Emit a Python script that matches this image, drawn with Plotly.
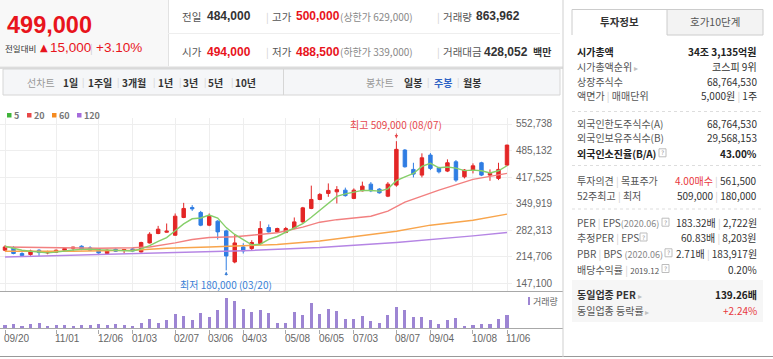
import plotly.graph_objects as go
import pandas as pd

W, H = 773, 359
KR = "Noto Sans CJK KR, Noto Sans, sans-serif"
NUM = "Liberation Sans, Arial, sans-serif"

# ---------------- data ----------------
weeks = [d.strftime("%Y-%m-%d") for d in pd.date_range("2019-09-20", periods=60, freq="7D")]
weeks = ["2020-10-08" if w == "2020-10-09" else w for w in weeks]

price_open = [231300, 238200, 222900, 220300, 231300, 224400, 226200, 231300, 236400, 241500,
              237200, 233800, 222900, 233800, 230500, 234600, 226900, 249900, 273900, 277200,
              269500, 314700, 340200, 327500, 295100, 305300, 280500, 201400, 239700, 235600,
              248400, 289200, 278000, 276400, 286600, 303500, 337700, 360600, 375900, 380000,
              384300, 363200, 382600, 399600, 386900, 369000, 397100, 486400, 437100, 422600,
              473600, 441200, 432800, 456500, 418300, 435400, 454000, 422600, 414200, 448100]
price_high = [244000, 241500, 226200, 232600, 233800, 230000, 233100, 237700, 240200, 244000,
              241500, 236400, 233800, 235600, 234600, 237200, 253000, 277200, 293300, 299400,
              324900, 351900, 346100, 331500, 324900, 307800, 283600, 272100, 249100, 256800,
              305300, 296800, 288700, 290700, 314700, 341700, 395800, 376700, 401400, 394500,
              390700, 388700, 406000, 404800, 389400, 404800, 509000, 488900, 454000, 478000,
              478700, 443800, 462700, 460900, 437900, 452500, 456500, 437100, 454000, 500000]
price_low = [228700, 221100, 214700, 217300, 216700, 221100, 224400, 230000, 228700, 231300,
             229500, 222400, 221100, 226900, 222900, 228000, 225400, 248400, 272100, 276000,
             268300, 313000, 331500, 292500, 292500, 258600, 180000, 198100, 222900, 231300,
             246600, 276400, 276400, 274600, 284900, 301400, 335900, 358800, 367300, 350400,
             367800, 361400, 381000, 379200, 375400, 366500, 393000, 441700, 416700, 416700,
             435400, 426900, 430300, 405500, 414200, 426900, 420100, 408100, 409900, 445600]
price_close = [239700, 222900, 217800, 229500, 225400, 228000, 231300, 235600, 238900, 233800,
               231300, 224400, 231300, 228700, 233100, 229500, 250900, 272100, 284900, 279800,
               318000, 337700, 336600, 295100, 318000, 278000, 216700, 249900, 229500, 250900,
               286600, 278000, 286600, 286600, 303500, 339200, 360600, 373400, 383600, 385600,
               370300, 384300, 394500, 382600, 377500, 399600, 488200, 443800, 425200, 466700,
               439700, 431000, 454000, 409900, 435400, 446300, 422600, 426900, 437100, 499000]
volume = [1000000, 1500000, 800000, 1300000, 1700000, 700000, 1000000, 1000000, 800000, 1100000,
          1100000, 1500000, 1100000, 1300000, 1100000, 700000, 1700000, 2700000, 1700000, 2500000,
          4100000, 3500000, 2500000, 4500000, 3300000, 5200000, 8500000, 7800000, 5500000, 4700000,
          5200000, 4500000, 1700000, 1700000, 4700000, 3800000, 7300000, 4200000, 5500000, 4900000,
          2800000, 2800000, 3500000, 2300000, 1700000, 3900000, 6000000, 5200000, 3300000, 3300000,
          2500000, 1500000, 2500000, 3000000, 700000, 1000000, 1500000, 1300000, 2700000, 3900000]

ma5 = [241500, 236400, 231300, 228700, 227100, 224700, 226400, 230000, 231800, 233500,
       234200, 232800, 231900, 229900, 229800, 229400, 234700, 242900, 254100, 263400,
       281100, 298500, 311400, 313400, 321100, 313100, 288900, 271500, 258400, 245000,
       246700, 259000, 266300, 277700, 288300, 298800, 315300, 332700, 352100, 368500,
       374700, 379400, 383700, 383500, 381800, 387700, 408500, 418300, 426900, 444700,
       452700, 441300, 443300, 440300, 434000, 435300, 433600, 428200, 433700, 446400]

ma20_idx = [0, 5, 11, 15, 17, 20, 22, 24, 27, 29, 32, 35, 37, 39, 43, 45, 47, 51, 55, 59]
ma20_val = [239700, 237700, 236400, 237700, 239700, 249900, 258600, 263700, 265700, 269500,
            275900, 290000, 302700, 309100, 318000, 330800, 353700, 384300, 411600, 426900]
ma60_idx = [0, 8, 15, 19, 24, 32, 37, 41, 46, 50, 55, 59]
ma60_val = [228700, 228700, 231300, 236400, 239700, 245800, 255000, 265200, 279800, 295100,
            307800, 323100]
ma120_idx = [0, 15, 28, 37, 46, 55, 59]
ma120_val = [214200, 222400, 230000, 238200, 250900, 267800, 276400]

tick_weeks = ["2019-09-20", "2019-11-01", "2019-12-06", "2020-01-03", "2020-02-07", "2020-03-06",
              "2020-04-03", "2020-05-08", "2020-06-05", "2020-07-03", "2020-08-07", "2020-09-04",
              "2020-10-08", "2020-11-06"]
tick_labels = ["09/20", "11/01", "12/06", "01/03", "02/07", "03/06", "04/03", "05/08", "06/05",
               "07/03", "08/07", "09/04", "10/08", "11/06"]
price_ticks = [552738, 485132, 417525, 349919, 282313, 214706, 147100]

# ---------------- colours ----------------
RED = "#e32626"
BLUE = "#2f7de3"
VOLC = "#9d85d3"
MA_COL = {"5": "#86cf6a", "20": "#f28080", "60": "#f8a54c", "120": "#b585e4"}
LEG_COL = {"5": "#3fb43a", "20": "#e84848", "60": "#f58a1f", "120": "#a56bdb"}

# ---------------- geometry helpers ----------------
def X(px):
    return px / W

def Y(py):
    return 1 - py / H

STEP = (507 - 5) / 59.0
x_range = [-5 / STEP, 59 + 5 / STEP]
per_px = (price_ticks[0] - price_ticks[-1]) / (283.3 - 124.0)
y_range = [price_ticks[-1] - (291.5 - 283.3) * per_px, price_ticks[0] + (124.0 - 118.0) * per_px]

fig = go.Figure()

def ma_trace(xs, ys, col):
    fig.add_trace(go.Scatter(x=xs, y=ys, mode="lines", line=dict(color=col, width=1.4),
                             xaxis="x", yaxis="y", hoverinfo="skip", showlegend=False))

ma_trace([weeks[i] for i in ma120_idx], ma120_val, MA_COL["120"])
ma_trace([weeks[i] for i in ma60_idx], ma60_val, MA_COL["60"])
ma_trace([weeks[i] for i in ma20_idx], ma20_val, MA_COL["20"])
ma_trace(weeks, ma5, MA_COL["5"])

fig.add_trace(go.Candlestick(
    x=weeks, open=price_open, high=price_high, low=price_low, close=price_close,
    increasing=dict(line=dict(color=RED, width=1), fillcolor=RED),
    decreasing=dict(line=dict(color=BLUE, width=1), fillcolor=BLUE),
    whiskerwidth=0, xaxis="x", yaxis="y", showlegend=False))

fig.add_trace(go.Bar(x=weeks, y=volume, marker=dict(color=VOLC, line=dict(width=0)), width=0.36,
                     xaxis="x2", yaxis="y2", showlegend=False))

shapes = []
ann = []

def rect(x0, y0, x1, y1, fill=None, line=None, lw=1, dash=None, layer="below"):
    d = dict(type="rect", xref="paper", yref="paper", x0=X(x0), x1=X(x1), y0=Y(y1), y1=Y(y0),
             line=dict(width=lw if line else 0, color=line or "rgba(0,0,0,0)"), layer=layer)
    if fill:
        d["fillcolor"] = fill
    if dash:
        d["line"]["dash"] = dash
    shapes.append(d)

def hline(x0, x1, y, col, lw=1, dash=None, layer="above"):
    d = dict(type="line", xref="paper", yref="paper", x0=X(x0), x1=X(x1), y0=Y(y), y1=Y(y),
             line=dict(color=col, width=lw), layer=layer)
    if dash:
        d["line"]["dash"] = dash
    shapes.append(d)

def vline(x, y0, y1, col, lw=1):
    shapes.append(dict(type="line", xref="paper", yref="paper", x0=X(x), x1=X(x), y0=Y(y0), y1=Y(y1),
                       line=dict(color=col, width=lw)))

def txt(x, y, s, size=10.5, color="#333", anchor="left", family=KR):
    ann.append(dict(x=X(x), y=Y(y), xref="paper", yref="paper", text=s, showarrow=False,
                    xanchor=anchor, yanchor="middle", borderpad=0,
                    font=dict(size=size, color=color, family=family)))

SEP = "<span style='color:#d0d0d0'>|</span>"

# ---------------- header ----------------
rect(0, 0, 168, 66, fill="#f8f8f8")
vline(168.5, 0, 66, "#e2e2e2")
hline(168, 560, 33.5, "#eeeeee")
rect(0, 66.5, 563, 69, fill="#dcdcdc")

txt(6, 25, "<b>499,000</b>", size=23.5, color="#e8141c", family=NUM)
txt(4, 48, "전일대비", size=8.5, color="#333")
txt(39, 48, "▲", size=10, color="#e8141c", family="DejaVu Sans")
txt(49, 48, "15,000", size=13.5, color="#e8141c", family=NUM)
txt(89, 48, "|", size=10, color="#cccccc")
txt(95, 48, "+3.10%", size=13.5, color="#e8141c", family=NUM)

row1, row2 = 16.5, 51.5
txt(181, row1, "전일", color="#555")
txt(206, row1, "<b>484,000</b>", size=12, color="#333", family=NUM)
txt(265, row1, "|", size=10, color="#d0d0d0")
txt(271, row1, "고가", color="#555")
txt(295, row1, "<b>500,000</b>", size=12, color="#e8141c", family=NUM)
txt(339, row1, "(상한가 629,000)", size=10, color="#888")
txt(436, row1, "|", size=10, color="#d0d0d0")
txt(442, row1, "거래량", color="#555")
txt(475, row1, "<b>863,962</b>", size=12, color="#333", family=NUM)

txt(181, row2, "시가", color="#555")
txt(206, row2, "<b>494,000</b>", size=12, color="#e8141c", family=NUM)
txt(265, row2, "|", size=10, color="#d0d0d0")
txt(271, row2, "저가", color="#555")
txt(295, row2, "<b>488,500</b>", size=12, color="#e8141c", family=NUM)
txt(339, row2, "(하한가 339,000)", size=10, color="#888")
txt(436, row2, "|", size=10, color="#d0d0d0")
txt(442, row2, "거래대금", color="#555")
txt(483, row2, "<b>428,052</b>", size=12, color="#333", family=NUM)
txt(532, row2, "<b>백만</b>", size=10, color="#333")

# ---------------- chart tab bar ----------------
rect(3, 69, 560, 95, fill="#f5f6f8", line="#d6d6d6")
vline(283.5, 69, 95, "#d6d6d6")
ty = 82
txt(26, ty, "선차트", size=10, color="#999")
items = [(62, "1일"), (87, "1주일"), (121, "3개월"), (157, "1년"), (182, "3년"), (207, "5년"), (234, "10년")]
seps = [81, 116, 152, 177.5, 202.5, 229.5]
for xx, s in items:
    txt(xx, ty, "<b>" + s + "</b>", size=10, color="#333")
for xx in seps:
    txt(xx, ty, "|", size=9, color="#d0d0d0")
txt(365, ty, "봉차트", size=10, color="#999")
txt(403, ty, "<b>일봉</b>", size=10, color="#333")
txt(426, ty, "|", size=9, color="#d0d0d0")
txt(433, ty, "<b>주봉</b>", size=10, color="#2f63c4")
txt(456, ty, "|", size=9, color="#d0d0d0")
txt(462, ty, "<b>월봉</b>", size=10, color="#333")

# ---------------- MA legend ----------------
for (x0, key) in [(7, "5"), (27, "20"), (52, "60"), (77, "120")]:
    rect(x0, 113, x0 + 4.5, 117.5, fill=LEG_COL[key])
    txt(x0 + 6, 115.5, "<b>" + key + "</b>", size=9, color="#777")

# ---------------- chart frame lines ----------------
hline(0, 563, 291.5, "#a8a8a8")
hline(0, 563, 328.5, "#a8a8a8")
hline(0, 773, 356.5, "#999999")

# price axis labels (right side)
for v in price_ticks:
    ann.append(dict(x=X(515), xref="paper", y=v, yref="y", text=f"{v:,}", showarrow=False,
                    xanchor="left", yanchor="middle", borderpad=0,
                    font=dict(size=10, color="#666", family=NUM)))

# volume legend
rect(528, 297, 530, 305, fill=VOLC)
txt(531.5, 301.5, "거래량", size=9, color="#666")

# x tick labels
for w, lab in zip(tick_weeks, tick_labels):
    ann.append(dict(x=w, xref="x", y=Y(338), yref="paper", text=lab, showarrow=False,
                    xanchor="left", yanchor="middle", xshift=-2, borderpad=0,
                    font=dict(size=10, color="#666", family=NUM)))

# high / low markers
ann.append(dict(x="2020-08-07", xref="x", y=Y(138.5), yref="paper", text="최고 509,000 (08/07)",
                showarrow=True, ax=0, ay=-14, arrowhead=2, arrowsize=0.7, arrowwidth=1,
                arrowcolor="#e6474c", font=dict(size=10, color="#e6474c", family=KR)))
ann.append(dict(x="2020-03-20", xref="x", y=Y(271.5), yref="paper", text="최저 180,000 (03/20)",
                showarrow=True, ax=0, ay=13, arrowhead=2, arrowsize=0.7, arrowwidth=1,
                arrowcolor="#3b7fd6", font=dict(size=10, color="#3b7fd6", family=KR)))

# ---------------- right panel ----------------
vline(563, 0, 357, "#cfcfcf")
rect(667, 9.5, 763, 35, fill="#f3f3f3", line="#cccccc")
vline(572, 9.5, 35, "#cccccc")
hline(572, 667, 9.5, "#cccccc")
txt(619.5, 22, "<b>투자정보</b>", size=10.5, color="#333", anchor="center")
txt(715, 22, "호가10단계", size=10.5, color="#555", anchor="center")

LX, RX = 576, 758
LC, VC = "#555", "#333"
FS = 10
ARW = "<span style='color:#c0c0c0;font-size:8px'> ▸</span>"
SMALL = "<span style='color:#888;font-size:9px'>(2020.06)</span>"

def row(y, left, right, lc=LC, vc=VC):
    txt(LX, y, left, size=FS, color=lc)
    txt(RX, y, right, size=FS, color=vc, anchor="right")

def qicon(x, y):
    rect(x, y - 4.5, x + 7, y + 3.5, fill="#ffffff", line="#bdbdbd", lw=1, layer="above")
    txt(x + 3.5, y - 0.5, "?", size=6, color="#999", anchor="center", family="DejaVu Sans")

row(51.7, "<b>시가총액</b>", "<b>34조 3,135억원</b>", lc="#222", vc="#222")
row(66, "시가총액순위" + ARW, "코스피 9위")
row(81, "상장주식수", "68,764,530")
row(95.5, "액면가 " + SEP + " 매매단위", "5,000원 " + SEP + " 1주")
hline(572, 763, 111.5, "#dddddd", dash="dot")
row(123.3, "외국인한도주식수(A)", "68,764,530")
row(137.7, "외국인보유주식수(B)", "29,568,153")
row(153.3, "<b>외국인소진율(B/A)</b>", "<b>43.00%</b>", lc="#222", vc="#222")
qicon(659, 153.3)
hline(572, 763, 165.5, "#dddddd", dash="dot")
row(180.7, "투자의견 " + SEP + " 목표주가",
    "<span style='color:#e8383d'>4.00매수</span> " + SEP + " 561,500")
row(195.7, "52주최고 " + SEP + " 최저", "509,000 " + SEP + " 180,000")
hline(572, 763, 209, "#dddddd", dash="dot")
row(222.7, "PER " + SEP + " EPS" + SMALL, "183.32배 " + SEP + " 2,722원")
qicon(662, 222.7)
row(237.5, "추정PER " + SEP + " EPS", "60.83배 " + SEP + " 8,203원")
qicon(640, 237.5)
row(253.3, "PBR " + SEP + " BPS " + SMALL, "2.71배 " + SEP + " 183,917원")
qicon(665, 253.3)
row(269, "배당수익률 " + SEP + " <span style='font-size:8px'>2019.12</span>", "0.20%")
qicon(662, 269)
rect(572, 280, 763, 322, fill="#f6f6f6")
row(294, "<b>동일업종 PER</b>" + ARW, "<b>139.26배</b>", lc="#333", vc="#222")
row(310, "동일업종 등락률" + ARW, "<span style='color:#e8383d'>+2.24%</span>")

# ---------------- layout ----------------
fig.update_layout(
    width=W, height=H, margin=dict(l=0, r=0, t=0, b=0),
    paper_bgcolor="white", plot_bgcolor="rgba(0,0,0,0)",
    showlegend=False, boxgap=0.42, bargap=0,
    font=dict(family=KR, size=10, color="#333"),
    xaxis=dict(domain=[0, X(512)], type="category", categoryorder="array", categoryarray=weeks,
               range=x_range, anchor="y", showgrid=True, gridcolor="#eeeeee", gridwidth=1,
               tickvals=tick_weeks, showticklabels=False, ticks="", zeroline=False,
               showline=False, rangeslider=dict(visible=False), fixedrange=True),
    yaxis=dict(domain=[Y(291.5), Y(118)], range=y_range, side="right", anchor="x",
               tickvals=price_ticks, showticklabels=False, showgrid=True,
               gridcolor="#eeeeee", zeroline=False, showline=False, ticks="", fixedrange=True),
    xaxis2=dict(domain=[0, X(512)], type="category", matches="x", anchor="y2",
                showgrid=False, tickvals=tick_weeks, showticklabels=False, ticks="outside",
                ticklen=4, tickcolor="#aaaaaa", zeroline=False, showline=False, fixedrange=True),
    yaxis2=dict(domain=[Y(328.5), Y(292.5)], range=[0, 10000000], visible=False,
                showgrid=False, zeroline=False, fixedrange=True),
    shapes=shapes, annotations=ann,
)

fig.write_html("out.html", config={"displayModeBar": False},
               post_script="document.body.style.margin='0';document.body.style.padding='0';document.body.style.overflow='hidden';")
